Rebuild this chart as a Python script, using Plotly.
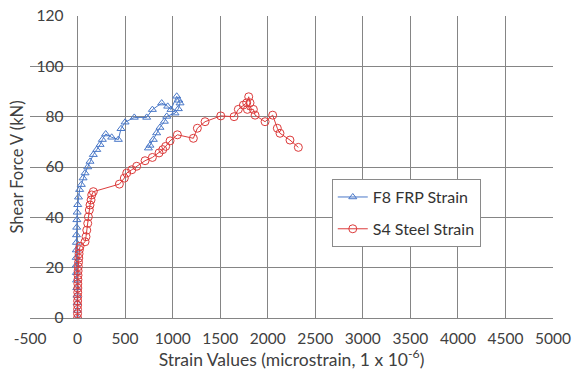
import plotly.graph_objects as go

# ---- data ----
frp_strain = [0, -2, -4, -6, -8, -10, -12, -13, -14, -13, -12, -11, -9, -7, -4, 2, 10, 22, 40,
              58, 79, 107, 131, 166, 202, 237, 261, 296, 359, 429, 457, 500, 597, 727, 787,
              885, 948, 983, 1043, 1065, 1078, 1060, 1025, 938, 913, 867, 832, 797, 762, 745]
frp_shear = [0, 3, 6, 9, 12, 15, 18, 21, 24, 27, 30, 33, 36, 39, 42, 45, 48, 51, 53,
             55.6, 57.6, 60, 62.2, 64.9, 66.9, 68.9, 70.9, 73.1, 71.8, 70.9, 75.2, 77.8, 79.7, 79.7, 82.8,
             85.4, 84.1, 82.8, 88.1, 86.5, 85.4, 83.1, 81.4, 80.1, 78.1, 75.7, 73.5, 70.9, 68.6, 67.5]

steel_strain = [0, 0, 0, 1, 1, 2, 2, 3, 3, 4, 5, 6, 8, 10, 13, 16, 20, 26,
                79, 89, 97, 107, 114, 124, 131, 142, 149, 166,
                440, 492, 517, 570, 622, 710, 787, 857, 896, 927, 973, 1050,
                1218, 1260, 1341, 1506, 1646, 1691, 1744, 1779, 1800, 1814, 1786,
                1849, 1867, 1972, 2052, 2101, 2129, 2234, 2322]
steel_shear = [0, 1.7, 3.4, 5.1, 6.8, 8.5, 10.2, 11.9, 13.6, 15.3, 17, 18.7, 20.4, 22.1, 23.8, 25.5, 27.2, 28.5,
               30.3, 32.3, 34.9, 37.6, 40.2, 42.9, 44.9, 46.9, 48.9, 50.2,
               53.2, 55.6, 57.6, 58.9, 60.3, 62.5, 63.8, 65.6, 66.9, 68.2, 70.4, 72.8,
               71.4, 75.4, 78, 80.3, 80, 82.9, 84.6, 85.5, 87.9, 85.5, 82.9,
               82.9, 80.6, 78, 80.6, 75.4, 73.4, 70.7, 67.8]

x_tick_vals = [-500, 0, 500, 1000, 1500, 2000, 2500, 3000, 3500, 4000, 4500, 5000]
x_tick_text = ["-500", "0", "500", "1000", "1500", "2000", "2500", "3000", "3500", "4000", "4500", "5000"]
y_tick_vals = [0, 20, 40, 60, 80, 100, 120]
y_tick_text = ["0", "20", "40", "60", "80", "100", "120"]

series_names = ["F8 FRP Strain", "S4 Steel Strain"]
x_title = "Strain Values (microstrain, 1 x 10<sup>-6</sup>)"
y_title = "Shear Force V (kN)"
panel_tag = "(a)"

BLUE = "#4a78c8"
RED = "#dc3b3b"
GRID = "#858585"
TXT = "#404040"
FONT = "Lato"

fig = go.Figure()
fig.add_trace(go.Scatter(
    x=frp_strain, y=frp_shear, mode="lines+markers", name=series_names[0], legendgroup="g1",
    line=dict(color=BLUE, width=1),
    marker=dict(symbol="triangle-up-open", size=7, color=BLUE, line=dict(width=1, color=BLUE)),
))
fig.add_trace(go.Scatter(
    x=steel_strain, y=steel_shear, mode="lines+markers", name=series_names[1], legendgroup="g2",
    line=dict(color=RED, width=1),
    marker=dict(symbol="circle-open", size=8, color=RED, line=dict(width=1, color=RED)),
))

fig.update_layout(
    template="none",
    width=572, height=376,
    margin=dict(l=30, r=19, t=16, b=58, autoexpand=False),
    paper_bgcolor="white", plot_bgcolor="white",
    font=dict(family=FONT, size=15, color=TXT),
    showlegend=True,
    legend=dict(
        x=0.577, y=0.46, xanchor="left", yanchor="top",
        bgcolor="white", bordercolor="#8a8a8a", borderwidth=1,
        tracegroupgap=8, font=dict(size=16, color="#333333"),
    ),
    xaxis=dict(
        range=[-500, 5000], tickvals=x_tick_vals, ticktext=x_tick_text,
        showgrid=True, gridcolor=GRID, gridwidth=1,
        zeroline=True, zerolinecolor=GRID, zerolinewidth=1, showline=False, ticks="",
        automargin=False, ticklabelstandoff=9, tickfont=dict(size=15.5, color=TXT),
        title=dict(text=x_title, font=dict(size=17.5, color=TXT), standoff=4),
    ),
    yaxis=dict(
        range=[0, 120], tickvals=y_tick_vals, ticktext=y_tick_text,
        showgrid=True, gridcolor=GRID, gridwidth=1,
        zeroline=True, zerolinecolor=GRID, zerolinewidth=1, showline=False, ticks="",
        anchor="free", position=500 / 5500, automargin=False,
        ticklabelstandoff=14, tickfont=dict(size=15.5, color=TXT),
        title=dict(text=y_title, font=dict(size=16.5, color=TXT), standoff=7),
    ),
    annotations=[dict(text=panel_tag, xref="paper", yref="paper", x=0.956, y=1.045,
                      xanchor="center", yanchor="bottom", showarrow=False,
                      font=dict(size=15, color=TXT))],
)

fig.write_html("out.html")
